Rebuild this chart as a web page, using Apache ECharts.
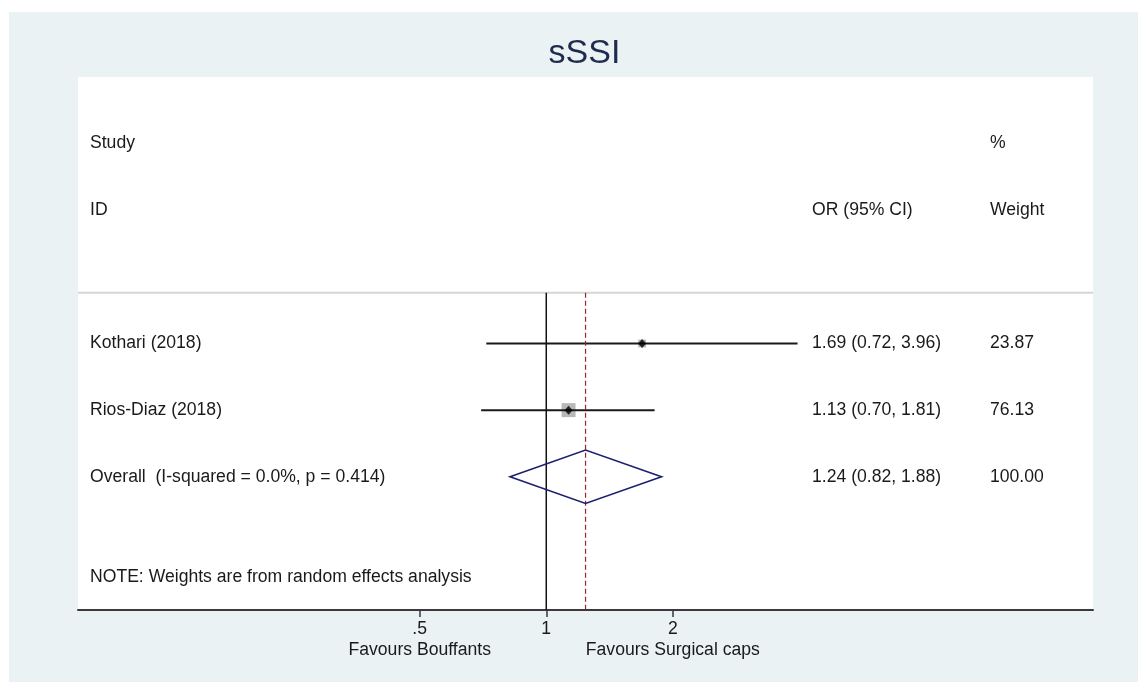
<!DOCTYPE html>
<html>
<head>
<meta charset="utf-8">
<script src="https://cdn.jsdelivr.net/npm/echarts@6/dist/echarts.min.js"></script>
<style>
  html, body { margin: 0; padding: 0; background: #ffffff; }
  #chart { position: absolute; left: 9px; top: 12px; width: 1129px; height: 670px; }
</style>
</head>
<body>
<div id="chart"></div>
<script>
// Study-level odds ratios with 95% confidence intervals and random-effects weights
const studies = ['Kothari (2018)', 'Rios-Diaz (2018)'];
const orEst = [1.69, 1.13];
const ciLow = [0.72, 0.70];
const ciHigh = [3.96, 1.81];
const weights = [23.87, 76.13];

// Pooled estimate
const overallLabel = 'Overall  (I-squared = 0.0%, p = 0.414)';
const overallEst = 1.24;
const overallLow = 0.82;
const overallHigh = 1.88;
const overallWeight = 100.00;

// Column headings and footnote
const headStudy = ['Study', 'ID'];
const headEffect = 'OR (95% CI)';
const headWeight = ['%', 'Weight'];
const footNote = 'NOTE: Weights are from random effects analysis';

// Axis ticks (odds ratio scale) and direction labels
const tickValues = [0.5, 1, 2];
const tickLabels = ['.5', '1', '2'];
const favoursLeft = 'Favours Bouffants';
const favoursRight = 'Favours Surgical caps';

const FONT = '"Liberation Sans", Arial, Helvetica, sans-serif';
const TEXT_SIZE = 17.6;
const log2 = v => Math.log2(v);
const fmt = v => v.toFixed(2);

// Row layout (y in row units, inverted axis)
const firstStudyRow = 4;
const overallRow = firstStudyRow + studies.length;
const headerLineRow = 3.24;
const noteRow = overallRow + 1.5;
const plotBottomRow = 8;

// Text table: column 0 = study, 1 = effect, 2 = weight
const textRows = [];
textRows.push({ text: headStudy[0], col: 0, row: 1 });
textRows.push({ text: headWeight[0], col: 2, row: 1 });
textRows.push({ text: headStudy[1], col: 0, row: 2 });
textRows.push({ text: headEffect, col: 1, row: 2 });
textRows.push({ text: headWeight[1], col: 2, row: 2 });
studies.forEach((s, i) => {
  const r = firstStudyRow + i;
  textRows.push({ text: s, col: 0, row: r });
  textRows.push({ text: fmt(orEst[i]) + ' (' + fmt(ciLow[i]) + ', ' + fmt(ciHigh[i]) + ')', col: 1, row: r });
  textRows.push({ text: fmt(weights[i]), col: 2, row: r });
});
textRows.push({ text: overallLabel, col: 0, row: overallRow });
textRows.push({ text: fmt(overallEst) + ' (' + fmt(overallLow) + ', ' + fmt(overallHigh) + ')', col: 1, row: overallRow });
textRows.push({ text: fmt(overallWeight), col: 2, row: overallRow });
textRows.push({ text: footNote, col: 0, row: noteRow });

const colOffsets = [12, 734, 912];

const chart = echarts.init(document.getElementById('chart'), null, { renderer: 'canvas' });

const tickLog = tickValues.map(log2);

// Plot region (pixels inside the chart container)
const gridLeft = 69, gridRight = 45, gridTop = 65, gridBottom = 72;
const chartWidth = 1129;
const plotCenterX = gridLeft + (chartWidth - gridLeft - gridRight) / 2;

chart.setOption({
  animation: false,
  backgroundColor: '#eaf2f3',
  title: {
    text: 'sSSI',
    left: plotCenterX - 6,
    textAlign: 'center',
    top: 20,
    textStyle: { fontFamily: FONT, fontSize: 34, fontWeight: 'normal', color: '#1e2b4f' }
  },
  grid: {
    left: gridLeft, right: gridRight, top: gridTop, bottom: gridBottom,
    show: true, backgroundColor: '#ffffff', borderWidth: 0
  },
  xAxis: {
    type: 'value',
    min: -3.70,
    max: 4.32,
    splitLine: { show: false },
    axisLine: { show: true, onZero: false, lineStyle: { color: '#3a3a3a', width: 2 } },
    axisTick: { show: true, length: 7, customValues: tickLog, lineStyle: { color: '#3a3a3a', width: 1.5 } },
    axisLabel: {
      customValues: tickLog,
      margin: 9,
      formatter: function (v) {
        let idx = tickLog.findIndex(t => Math.abs(t - v) < 1e-9);
        if (idx < 0) return '';
        let s = '{t|' + tickLabels[idx] + '}';
        if (idx === 0) s += '\n{t|' + favoursLeft + '}';
        if (idx === tickLabels.length - 1) s += '\n{t|' + favoursRight + '}';
        return s;
      },
      rich: { t: { fontFamily: FONT, fontSize: TEXT_SIZE, lineHeight: 21, color: '#1a1a1a', align: 'center' } }
    }
  },
  yAxis: {
    type: 'value', inverse: true, min: 0, max: plotBottomRow, show: false
  },
  series: [
    // header separator
    {
      type: 'custom', silent: true,
      data: [[headerLineRow]],
      renderItem: function (params, api) {
        const cs = params.coordSys;
        const y = api.coord([0, api.value(0)])[1];
        return { type: 'line', shape: { x1: cs.x, y1: y, x2: cs.x + cs.width, y2: y },
                 style: { stroke: '#d6d6d6', lineWidth: 2 } };
      }
    },
    // weight boxes
    {
      type: 'custom', silent: true, z: 2,
      data: studies.map((s, i) => [log2(orEst[i]), firstStudyRow + i, weights[i]]),
      renderItem: function (params, api) {
        const p = api.coord([api.value(0), api.value(1)]);
        const side = 1.6 * Math.sqrt(api.value(2));
        return { type: 'rect', shape: { x: p[0] - side / 2, y: p[1] - side / 2, width: side, height: side },
                 style: { fill: '#b8b8b8' } };
      }
    },
    // confidence intervals
    {
      type: 'custom', silent: true, z: 3,
      data: studies.map((s, i) => [log2(ciLow[i]), log2(ciHigh[i]), firstStudyRow + i]),
      renderItem: function (params, api) {
        const a = api.coord([api.value(0), api.value(2)]);
        const b = api.coord([api.value(1), api.value(2)]);
        return { type: 'line', shape: { x1: a[0], y1: a[1], x2: b[0], y2: b[1] },
                 style: { stroke: '#1a1a1a', lineWidth: 2 } };
      }
    },
    // null line (OR = 1)
    {
      type: 'custom', silent: true, z: 3,
      data: [[log2(1), headerLineRow, plotBottomRow]],
      renderItem: function (params, api) {
        const a = api.coord([api.value(0), api.value(1)]);
        const b = api.coord([api.value(0), api.value(2)]);
        return { type: 'line', shape: { x1: a[0], y1: a[1], x2: b[0], y2: b[1] },
                 style: { stroke: '#111111', lineWidth: 1.5 } };
      }
    },
    // pooled estimate reference line
    {
      type: 'custom', silent: true, z: 3,
      data: [[log2(overallEst), headerLineRow, plotBottomRow]],
      renderItem: function (params, api) {
        const a = api.coord([api.value(0), api.value(1)]);
        const b = api.coord([api.value(0), api.value(2)]);
        return { type: 'line', shape: { x1: a[0], y1: a[1], x2: b[0], y2: b[1] },
                 style: { stroke: '#9a2230', lineWidth: 1.2, lineDash: [5, 3] } };
      }
    },
    // point estimates
    {
      type: 'scatter', silent: true, z: 4,
      symbol: 'diamond', symbolSize: [8, 9],
      itemStyle: { color: '#000000' },
      data: studies.map((s, i) => [log2(orEst[i]), firstStudyRow + i])
    },
    // pooled diamond
    {
      type: 'custom', silent: true, z: 4,
      data: [[log2(overallLow), log2(overallEst), log2(overallHigh), overallRow]],
      renderItem: function (params, api) {
        const r = api.value(3);
        const pts = [
          api.coord([api.value(0), r]),
          api.coord([api.value(1), r - 0.4]),
          api.coord([api.value(2), r]),
          api.coord([api.value(1), r + 0.4])
        ];
        return { type: 'polygon', shape: { points: pts },
                 style: { fill: 'none', stroke: '#1c1f6e', lineWidth: 1.6 } };
      }
    },
    // table text
    {
      type: 'custom', silent: true, z: 5,
      data: textRows.map(t => [t.col, t.row]),
      renderItem: function (params, api) {
        const cs = params.coordSys;
        const t = textRows[params.dataIndex];
        const y = api.coord([0, api.value(1)])[1];
        return { type: 'text',
                 style: { x: cs.x + colOffsets[t.col], y: y, text: t.text,
                          font: TEXT_SIZE + 'px ' + FONT, fill: '#1a1a1a',
                          textAlign: 'left', textVerticalAlign: 'middle' } };
      }
    }
  ]
});
</script>
</body>
</html>
